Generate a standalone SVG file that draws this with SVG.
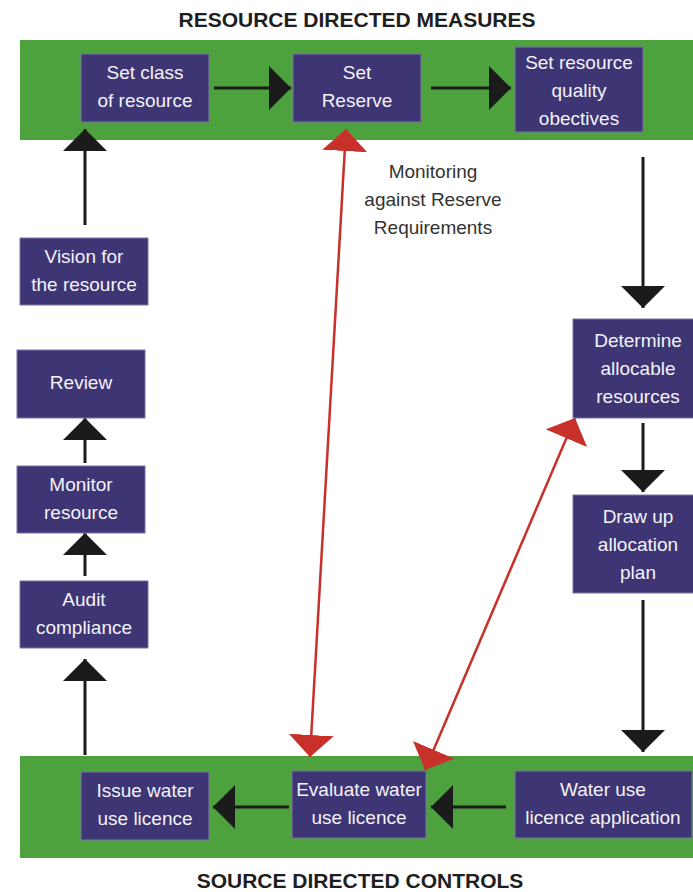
<svg xmlns="http://www.w3.org/2000/svg" width="693" height="892" viewBox="0 0 693 892">
<style>
.band{fill:#4ea23e}
.title{font-family:"Liberation Sans",Arial,sans-serif;font-weight:bold;font-size:21px;fill:#1e1e1e;text-anchor:middle}
.box{fill:#3e3574;stroke:#7a73aa;stroke-width:1}
.lbl{font-family:"Liberation Sans",Arial,sans-serif;font-size:19px;fill:#f4f2fa;text-anchor:middle}
.note{font-family:"Liberation Sans",Arial,sans-serif;font-size:19px;fill:#333333;text-anchor:middle}
.blk{stroke:#1b1b1b;stroke-width:3;fill:none;marker-end:url(#ah)}
.red{stroke:#c8302a;stroke-width:2.5;fill:none;marker-start:url(#rh);marker-end:url(#rh)}
</style>
<defs>
<marker id="ah" markerUnits="userSpaceOnUse" viewBox="0 -23 24 46" refX="22" refY="0" markerWidth="24" markerHeight="46" orient="auto">
<path d="M0,-22 L22,0 L0,22 z" fill="#1b1b1b"/>
</marker>
<marker id="rh" markerUnits="userSpaceOnUse" viewBox="0 -23 24 46" refX="22" refY="0" markerWidth="24" markerHeight="46" orient="auto-start-reverse">
<path d="M0,-22.5 L22,0 L0,22.5 z" fill="#c8302a"/>
</marker>
</defs>

<g id="band-resource-directed-measures">
<text class="title" x="357" y="27">RESOURCE DIRECTED MEASURES</text>
<rect class="band" x="20" y="40" width="673" height="100"/>
</g>
<g id="band-source-directed-controls">
<rect class="band" x="20" y="756" width="673" height="102"/>
<text class="title" x="360" y="888">SOURCE DIRECTED CONTROLS</text>
</g>

<g id="connectors">
<line class="blk" x1="214" y1="88" x2="291" y2="88"/>
<line class="blk" x1="431" y1="88" x2="511" y2="88"/>
<line class="blk" x1="643" y1="157" x2="643" y2="308"/>
<line class="blk" x1="643" y1="423" x2="643" y2="492"/>
<line class="blk" x1="643" y1="600" x2="643" y2="752"/>
<line class="blk" x1="506" y1="807" x2="431" y2="807"/>
<line class="blk" x1="289" y1="807" x2="213" y2="807"/>
<line class="blk" x1="85" y1="755" x2="85" y2="659"/>
<line class="blk" x1="85" y1="576" x2="85" y2="533"/>
<line class="blk" x1="85" y1="463" x2="85" y2="418"/>
<line class="blk" x1="85" y1="225" x2="85" y2="129"/>
<line class="red" x1="346" y1="129" x2="310" y2="757"/>
<line class="red" x1="575" y1="418" x2="425" y2="770"/>
</g>

<g id="set-class">
<rect class="box" x="81" y="54" width="128" height="68"/>
<text class="lbl" x="145" y="79">Set class</text>
<text class="lbl" x="145" y="107">of resource</text>
</g>
<g id="set-reserve">
<rect class="box" x="293" y="54" width="128" height="68"/>
<text class="lbl" x="357" y="79">Set</text>
<text class="lbl" x="357" y="107">Reserve</text>
</g>
<g id="set-quality">
<rect class="box" x="515" y="47" width="128" height="85"/>
<text class="lbl" x="579" y="69">Set resource</text>
<text class="lbl" x="579" y="97">quality</text>
<text class="lbl" x="579" y="125">obectives</text>
</g>
<g id="vision">
<rect class="box" x="20" y="238" width="128" height="67"/>
<text class="lbl" x="84" y="263">Vision for</text>
<text class="lbl" x="84" y="291">the resource</text>
</g>
<g id="review">
<rect class="box" x="17" y="350" width="128" height="68"/>
<text class="lbl" x="81" y="389">Review</text>
</g>
<g id="monitor">
<rect class="box" x="17" y="466" width="128" height="67"/>
<text class="lbl" x="81" y="491">Monitor</text>
<text class="lbl" x="81" y="519">resource</text>
</g>
<g id="audit">
<rect class="box" x="20" y="581" width="128" height="67"/>
<text class="lbl" x="84" y="606">Audit</text>
<text class="lbl" x="84" y="634">compliance</text>
</g>
<g id="determine">
<rect class="box" x="573" y="319" width="130" height="99"/>
<text class="lbl" x="638" y="347">Determine</text>
<text class="lbl" x="638" y="375">allocable</text>
<text class="lbl" x="638" y="403">resources</text>
</g>
<g id="draw-up">
<rect class="box" x="573" y="495" width="130" height="98"/>
<text class="lbl" x="638" y="523">Draw up</text>
<text class="lbl" x="638" y="551">allocation</text>
<text class="lbl" x="638" y="579">plan</text>
</g>
<g id="issue">
<rect class="box" x="81" y="772" width="128" height="68"/>
<text class="lbl" x="145" y="797">Issue water</text>
<text class="lbl" x="145" y="825">use licence</text>
</g>
<g id="evaluate">
<rect class="box" x="292" y="771" width="134" height="67"/>
<text class="lbl" x="359" y="796">Evaluate water</text>
<text class="lbl" x="359" y="824">use licence</text>
</g>
<g id="application">
<rect class="box" x="515" y="771" width="177" height="67"/>
<text class="lbl" x="603" y="796">Water use</text>
<text class="lbl" x="603" y="824">licence application</text>
</g>
<g id="monitoring-note">
<text class="note" x="433" y="178">Monitoring</text>
<text class="note" x="433" y="206">against Reserve</text>
<text class="note" x="433" y="234">Requirements</text>
</g>
</svg>
